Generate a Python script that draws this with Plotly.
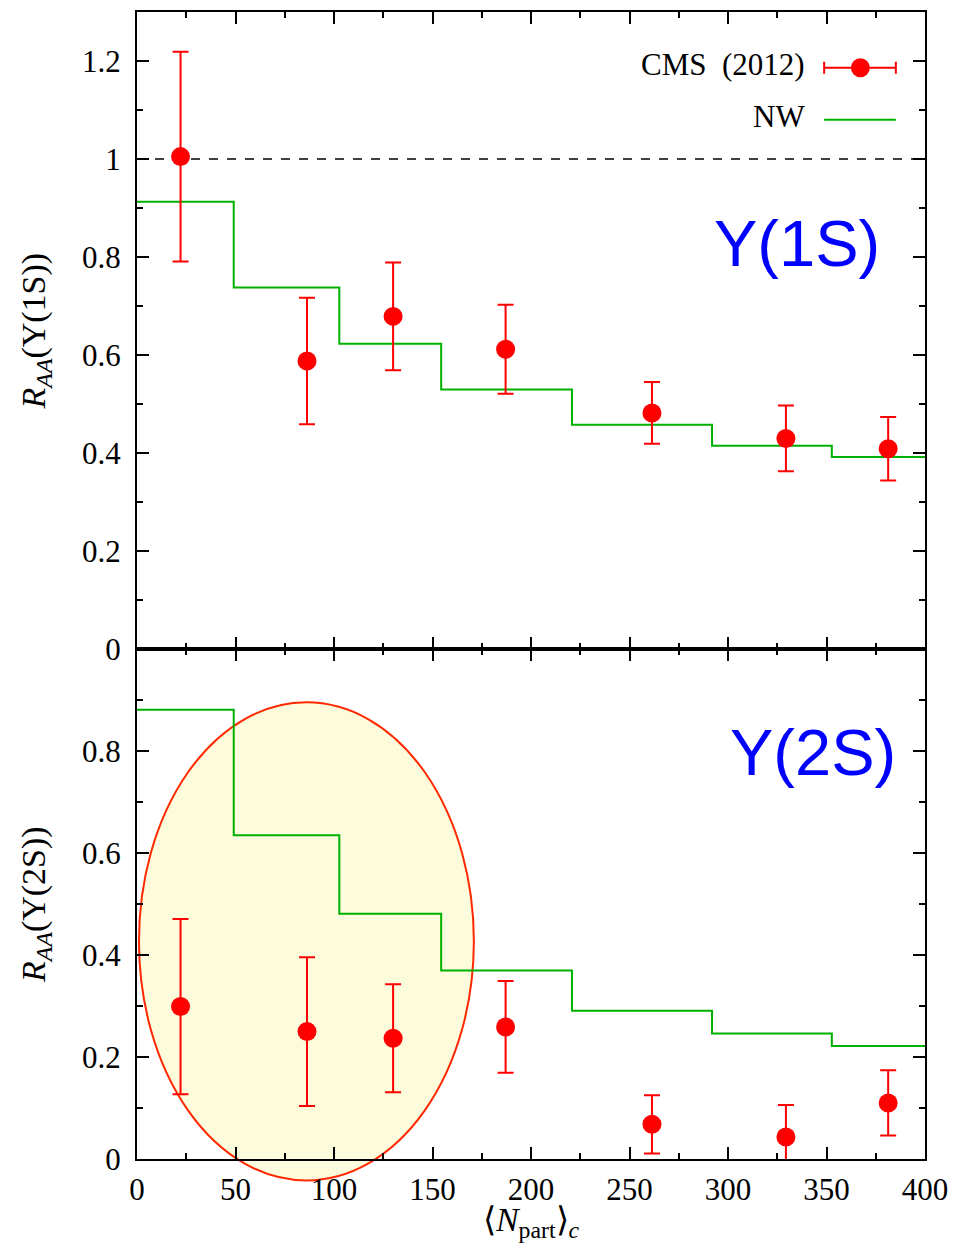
import plotly.graph_objects as go

# Centrality classes: mean number of participants
npart = [22.1, 86.3, 130.0, 187.1, 261.4, 329.4, 381.3]

# CMS (2012) nuclear modification factors with uncertainties
raa_1s = [1.005, 0.588, 0.679, 0.612, 0.482, 0.430, 0.409]
err_1s = [0.214, 0.129, 0.110, 0.091, 0.063, 0.067, 0.065]
raa_2s = [0.299, 0.250, 0.237, 0.259, 0.068, 0.043, 0.110]
err_2s = [0.172, 0.146, 0.106, 0.090, 0.057, 0.063, 0.064]

# NW model: piecewise-constant prediction per centrality bin
bin_edges = [0, 49.1, 102.7, 154.4, 220.8, 291.9, 352.7, 400]
nw_1s = [0.913, 0.738, 0.623, 0.530, 0.458, 0.415, 0.392]
nw_2s = [0.8815, 0.635, 0.481, 0.370, 0.291, 0.246, 0.2215]

# Highlighted low-centrality region in the 2S panel (data units)
ell_center = (86.0, 0.427)
ell_semi = (85.0, 0.469)

X_RANGE = [0, 400]
Y1_RANGE = [0, 1.3]
Y2_RANGE = [0, 1.0]
DOM_BOT = [0, 512 / 1152]
DOM_TOP = [512 / 1152, 1]

RED = "#ff0000"
GREEN = "rgb(0,176,0)"
SERIF = "Liberation Serif"
FS = 31
SANS = "Liberation Sans"

fig = go.Figure()


def step_xy(levels):
    return bin_edges, levels + [levels[-1]]


# Top panel (1S)
sx, sy = step_xy(nw_1s)
fig.add_trace(go.Scatter(x=sx, y=sy, mode="lines", line=dict(color=GREEN, width=2, shape="hv"),
                         xaxis="x2", yaxis="y2", showlegend=False, name="NW"))
fig.add_trace(go.Scatter(x=npart, y=raa_1s, mode="markers", marker=dict(color=RED, size=19),
                         error_y=dict(type="data", array=err_1s, color=RED, thickness=2, width=8),
                         xaxis="x2", yaxis="y2", showlegend=False, name="CMS (2012)"))

# Bottom panel (2S)
sx, sy = step_xy(nw_2s)
fig.add_trace(go.Scatter(x=sx, y=sy, mode="lines", line=dict(color=GREEN, width=2, shape="hv"),
                         xaxis="x", yaxis="y", showlegend=False, name="NW"))
fig.add_trace(go.Scatter(x=npart, y=raa_2s, mode="markers", marker=dict(color=RED, size=19),
                         error_y=dict(type="data", array=err_2s, color=RED, thickness=2, width=8),
                         xaxis="x", yaxis="y", showlegend=False, name="CMS (2012)"))


def to_paper_x(x):
    return (x - X_RANGE[0]) / (X_RANGE[1] - X_RANGE[0])


def to_paper_y(y, rng, dom):
    return dom[0] + (y - rng[0]) / (rng[1] - rng[0]) * (dom[1] - dom[0])


shapes = []
# Highlight ellipse, allowed to spill past the axis frame
cx, cy = ell_center
ax_, ay_ = ell_semi
shapes.append(dict(type="circle", xref="paper", yref="paper", layer="below",
                   x0=to_paper_x(cx - ax_), x1=to_paper_x(cx + ax_),
                   y0=to_paper_y(cy - ay_, Y2_RANGE, DOM_BOT), y1=to_paper_y(cy + ay_, Y2_RANGE, DOM_BOT),
                   fillcolor="rgb(252,252,220)", line=dict(color="rgb(255,40,0)", width=2)))
# Reference line R_AA = 1
shapes.append(dict(type="line", xref="x2", yref="y2", x0=X_RANGE[0], x1=X_RANGE[1], y0=1, y1=1,
                   layer="below", line=dict(color="black", width=1.5, dash="9px,9px")))

# Hand-built legend keys (text sits to the left of the key)
kx0, kx1, kxm = 0.872, 0.963, 0.918
ky_cms, ky_nw = 0.9514, 0.906
shapes.append(dict(type="line", xref="paper", yref="paper", x0=kx0, x1=kx1, y0=ky_cms, y1=ky_cms,
                   line=dict(color=RED, width=2)))
for kx in (kx0, kx1):
    shapes.append(dict(type="line", xref="paper", yref="paper", xsizemode="pixel", ysizemode="pixel",
                       xanchor=kx, yanchor=ky_cms, x0=0, x1=0, y0=-6, y1=6,
                       line=dict(color=RED, width=2)))
shapes.append(dict(type="circle", xref="paper", yref="paper", xsizemode="pixel", ysizemode="pixel",
                   xanchor=kxm, yanchor=ky_cms, x0=-9.5, x1=9.5, y0=-9.5, y1=9.5,
                   fillcolor=RED, line=dict(color=RED, width=0)))
shapes.append(dict(type="line", xref="paper", yref="paper", x0=kx0, x1=kx1, y0=ky_nw, y1=ky_nw,
                   line=dict(color=GREEN, width=2)))

annotations = [
    dict(text="CMS  (2012)", xref="paper", yref="paper", x=0.85, y=ky_cms + 0.003, xanchor="right",
         yanchor="middle", showarrow=False, font=dict(family=SERIF, size=FS, color="black")),
    dict(text="NW", xref="paper", yref="paper", x=0.85, y=ky_nw + 0.003, xanchor="right",
         yanchor="middle", showarrow=False, font=dict(family=SERIF, size=FS, color="black")),
    dict(text="Υ(1S)", xref="x2", yref="y2", x=335, y=0.828, xanchor="center", yanchor="middle",
         showarrow=False, font=dict(family=SANS, size=65, color="#0000ff")),
    dict(text="Υ(2S)", xref="x", yref="y", x=343, y=0.797, xanchor="center", yanchor="middle",
         showarrow=False, font=dict(family=SANS, size=65, color="#0000ff")),
]

tickfont = dict(family=SERIF, size=FS, color="black")
titlefont = dict(family=SERIF, size=34, color="black")
minor_ticks = dict(ticks="inside", ticklen=6, tickwidth=2, tickcolor="black")


def axis_style():
    return dict(showline=True, linecolor="black", linewidth=2, mirror="allticks", ticks="inside",
                ticklen=12, tickwidth=2, tickcolor="black", showgrid=False, zeroline=False,
                tickfont=dict(tickfont))


fig.update_layout(
    width=958, height=1243,
    margin=dict(l=137, r=31, t=10, b=81),
    font=dict(family=SERIF, size=FS, color="black"),
    paper_bgcolor="white", plot_bgcolor="rgba(0,0,0,0)",
    showlegend=False,
    xaxis=dict(**axis_style(), domain=[0, 1], range=X_RANGE, anchor="y", dtick=50, tick0=0,
               minor=dict(dtick=25, **minor_ticks),
               ticklabelstandoff=2,
               title=dict(text="⟨<i>N</i><sub>part</sub>⟩<sub><i>c</i></sub>",
                          font=titlefont, standoff=2)),
    yaxis=dict(**axis_style(), domain=DOM_BOT, range=Y2_RANGE, anchor="x",
               tickmode="array", tickvals=[0, 0.2, 0.4, 0.6, 0.8],
               ticktext=["0", "0.2", "0.4", "0.6", "0.8"],
               minor=dict(tickmode="array", tickvals=[0.1, 0.3, 0.5, 0.7, 0.9], **minor_ticks),
               ticklabelstandoff=8,
               title=dict(text="<i>R</i><sub><i>AA</i></sub>(Υ(2S))", font=titlefont, standoff=26)),
    xaxis2=dict(**axis_style(), domain=[0, 1], range=X_RANGE, anchor="y2", matches="x",
                dtick=50, tick0=0, showticklabels=False,
                minor=dict(dtick=25, **minor_ticks)),
    yaxis2=dict(**axis_style(), domain=DOM_TOP, range=Y1_RANGE, anchor="x2",
                tickmode="array", tickvals=[0, 0.2, 0.4, 0.6, 0.8, 1.0, 1.2],
                ticktext=["0", "0.2", "0.4", "0.6", "0.8", "1", "1.2"],
                minor=dict(tickmode="array", tickvals=[0.1, 0.3, 0.5, 0.7, 0.9, 1.1], **minor_ticks),
                ticklabelstandoff=8,
                title=dict(text="<i>R</i><sub><i>AA</i></sub>(Υ(1S))", font=titlefont, standoff=26)),
    shapes=shapes,
    annotations=annotations,
)

fig.write_html("out.html")
